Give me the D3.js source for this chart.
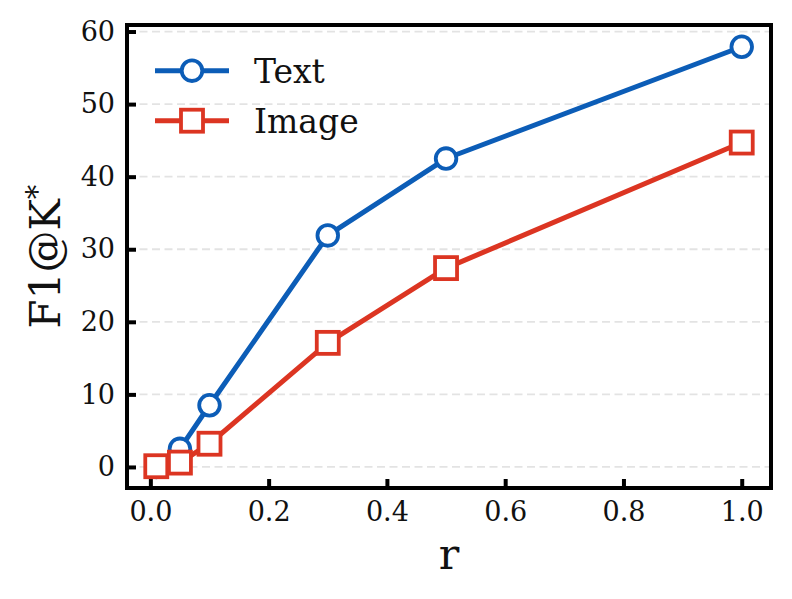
<!DOCTYPE html>
<html><head><meta charset="utf-8">
<script src="https://cdn.jsdelivr.net/npm/d3@7"></script>
<style>body{margin:0;background:#fff}svg{display:block}</style>
</head><body>
<script>
const rValues = [0.01, 0.05, 0.1, 0.3, 0.5, 1.0];
const textF1 = [0.0, 2.5, 8.5, 31.9, 42.5, 57.9];
const imageF1 = [0.1, 0.6, 3.2, 17.1, 27.4, 44.7];
const seriesNames = ["Text", "Image"];
const xTicks = [0.0, 0.2, 0.4, 0.6, 0.8, 1.0];
const yTicks = [0, 10, 20, 30, 40, 50, 60];

const W = 792, H = 599;
const m = {left: 127, right: 21, top: 25, bottom: 111};
const blue = "#0C5DB7", red = "#DC3522";
const font = "'DejaVu Serif', serif";

const svg = d3.select("body").append("svg").attr("width", W).attr("height", H);
const x = d3.scaleLinear().domain([-0.0395, 1.0495]).range([m.left, W - m.right]);
const y = d3.scaleLinear().domain([-2.9, 60.9]).range([H - m.bottom, m.top]);

// grid
svg.append("g").selectAll("line").data(yTicks).join("line")
  .attr("x1", m.left).attr("x2", W - m.right)
  .attr("y1", d => y(d)).attr("y2", d => y(d))
  .attr("stroke", "#e3e3e3").attr("stroke-width", 1.8).attr("stroke-dasharray", "8,4.5");

// axes
const xAxis = svg.append("g").attr("transform", `translate(0,${H - m.bottom})`)
  .call(d3.axisBottom(x).tickValues(xTicks).tickFormat(d3.format(".1f")).tickSizeInner(-9).tickSizeOuter(0).tickPadding(14));
const yAxis = svg.append("g").attr("transform", `translate(${m.left},0)`)
  .call(d3.axisLeft(y).tickValues(yTicks).tickFormat(d3.format("d")).tickSizeInner(-9).tickSizeOuter(0).tickPadding(12));
[xAxis, yAxis].forEach(a => {
  a.select(".domain").remove();
  a.selectAll(".tick line").attr("stroke", "#000").attr("stroke-width", 4);
  a.selectAll(".tick text").attr("font-family", font).attr("font-size", 27).attr("fill", "#111");
});

// lines
const series = [
  {name: seriesNames[0], vals: textF1, color: blue, shape: "circle"},
  {name: seriesNames[1], vals: imageF1, color: red, shape: "square"}
];
const line = d3.line().x(d => x(d[0])).y(d => y(d[1]));
series.forEach(s => {
  const pts = rValues.map((r, i) => [r, s.vals[i]]);
  const g = svg.append("g");
  g.append("path").attr("d", line(pts)).attr("fill", "none")
    .attr("stroke", s.color).attr("stroke-width", 5).attr("stroke-linejoin", "round");
  if (s.shape === "circle") {
    g.selectAll("circle").data(pts).join("circle")
      .attr("cx", d => x(d[0])).attr("cy", d => y(d[1])).attr("r", 10.3)
      .attr("fill", "#fff").attr("stroke", s.color).attr("stroke-width", 3.8);
  } else {
    g.selectAll("rect").data(pts).join("rect")
      .attr("x", d => x(d[0]) - 11).attr("y", d => y(d[1]) - 11)
      .attr("width", 22).attr("height", 22)
      .attr("fill", "#fff").attr("stroke", s.color).attr("stroke-width", 3.8);
  }
});

// frame
svg.append("rect").attr("x", m.left).attr("y", m.top)
  .attr("width", W - m.left - m.right).attr("height", H - m.top - m.bottom)
  .attr("fill", "none").attr("stroke", "#000").attr("stroke-width", 4);

// legend
series.forEach((s, i) => {
  const ly = 70.7 + i * 50;
  const g = svg.append("g");
  g.append("line").attr("x1", 155).attr("x2", 229).attr("y1", ly).attr("y2", ly)
    .attr("stroke", s.color).attr("stroke-width", 5);
  if (s.shape === "circle") {
    g.append("circle").attr("cx", 192).attr("cy", ly).attr("r", 10.3)
      .attr("fill", "#fff").attr("stroke", s.color).attr("stroke-width", 3.8);
  } else {
    g.append("rect").attr("x", 181).attr("y", ly - 11).attr("width", 22).attr("height", 22)
      .attr("fill", "#fff").attr("stroke", s.color).attr("stroke-width", 3.8);
  }
  g.append("text").attr("x", 254).attr("y", ly).attr("dy", "0.36em")
    .attr("font-family", font).attr("font-size", 33).attr("fill", "#111").text(s.name);
});

// axis labels
svg.append("text").attr("x", (m.left + W - m.right) / 2).attr("y", 569)
  .attr("text-anchor", "middle").attr("font-family", font).attr("font-size", 43).attr("fill", "#111").text("r");
const yl = svg.append("text").attr("transform", `translate(60,${(m.top + H - m.bottom) / 2}) rotate(-90)`)
  .attr("text-anchor", "middle").attr("font-family", font).attr("font-size", 42).attr("fill", "#111");
yl.append("tspan").text("F1@K");
yl.append("tspan").attr("font-size", 29).attr("baseline-shift", "45%").text("*");
</script>
</body></html>
